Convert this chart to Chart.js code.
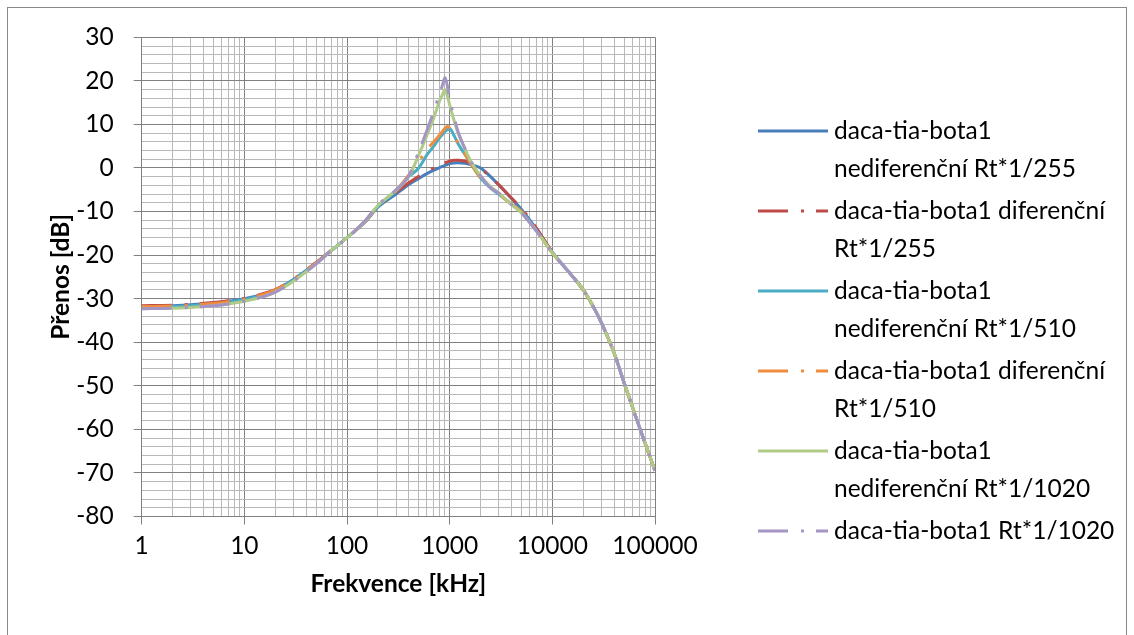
<!DOCTYPE html>
<html><head><meta charset="utf-8">
<script src="https://cdn.jsdelivr.net/npm/chart.js@4.4.1/dist/chart.umd.min.js"></script>
<style>
html,body{margin:0;padding:0;background:#fff;}
#wrap{position:relative;width:1134px;height:635px;overflow:hidden;}
#frame{position:absolute;left:7px;top:7px;width:1120px;height:660px;border:1px solid #8a8a8a;box-sizing:border-box;pointer-events:none;}
canvas{position:absolute;left:0;top:0;}
</style></head><body>
<div id="wrap"><canvas id="c" width="1134" height="635"></canvas><div id="frame"></div></div>
<script>
// ---- data ----
const frequencies = [1, 2, 3, 5, 7, 10, 15, 20, 30, 50, 70, 100, 150, 200, 300, 400, 500, 600, 700, 800, 850, 900, 950, 1000, 1100, 1200, 1400, 1600, 2000, 2500, 3000, 4000, 5000, 7000, 10000, 15000, 20000, 25000, 30000, 40000, 50000, 70000, 100000];

const seriesNames = [
  'daca-tia-bota1 nediferenční Rt*1/255',
  'daca-tia-bota1 diferenční Rt*1/255',
  'daca-tia-bota1 nediferenční Rt*1/510',
  'daca-tia-bota1 diferenční Rt*1/510',
  'daca-tia-bota1 nediferenční Rt*1/1020',
  'daca-tia-bota1 Rt*1/1020'
];
const legendLines = [
  ['daca-tia-bota1', 'nediferenční Rt*1/255'],
  ['daca-tia-bota1 diferenční', 'Rt*1/255'],
  ['daca-tia-bota1', 'nediferenční Rt*1/510'],
  ['daca-tia-bota1 diferenční', 'Rt*1/510'],
  ['daca-tia-bota1', 'nediferenční Rt*1/1020'],
  ['daca-tia-bota1 Rt*1/1020']
];

const nedif255 = [-31.8, -31.6, -31.4, -31.0, -30.6, -30.0, -29.0, -28.0, -25.6, -21.8, -19.0, -16.0, -12.4, -9.0, -6.0, -3.8, -2.4, -1.3, -0.5, 0.1, 0.35, 0.6, 0.8, 1.0, 1.15, 1.2, 1.1, 0.8, 0.0, -2.0, -3.9, -7.0, -9.5, -14.0, -19.3, -24.3, -28.0, -31.8, -35.5, -42.5, -49.3, -59.3, -69.5];
const dif255   = [-31.6, -31.5, -31.3, -30.9, -30.5, -29.9, -28.9, -27.9, -25.5, -21.7, -18.9, -16.0, -12.3, -8.8, -5.6, -3.4, -1.9, -0.8, 0.0, 0.7, 0.95, 1.2, 1.4, 1.6, 1.8, 1.8, 1.6, 1.1, 0.0, -2.2, -3.8, -6.9, -9.3, -13.8, -19.3, -24.3, -28.0, -31.8, -35.5, -42.5, -49.3, -59.3, -69.5];
const nedif510 = [-31.9, -31.8, -31.6, -31.2, -30.8, -30.2, -29.2, -28.1, -25.7, -21.8, -19.0, -16.0, -12.3, -8.8, -5.3, -2.0, 0.0, 3.0, 5.0, 7.0, 7.7, 8.4, 8.8, 9.0, 7.5, 5.7, 3.2, 1.0, -2.3, -4.6, -6.0, -8.3, -10.0, -14.3, -19.5, -24.3, -28.0, -31.8, -35.5, -42.5, -49.3, -59.3, -69.5];
const dif510   = [-31.8, -31.7, -31.5, -31.1, -30.7, -30.1, -29.1, -28.0, -25.6, -21.8, -19.0, -16.0, -12.3, -8.7, -5.2, -1.6, 1.5, 4.2, 6.0, 7.6, 8.4, 9.1, 9.5, 9.2, 7.6, 5.8, 3.3, 1.1, -2.2, -4.5, -6.0, -8.3, -10.0, -14.3, -19.5, -24.3, -28.0, -31.8, -35.5, -42.5, -49.3, -59.3, -69.5];
const nedif1020 = [-32.3, -32.2, -32.0, -31.6, -31.2, -30.6, -29.6, -28.5, -26.0, -22.0, -19.0, -16.0, -12.2, -8.6, -5.1, -2.0, 3.0, 7.5, 11.5, 15.5, 16.8, 18.0, 16.5, 14.5, 11.0, 8.2, 4.5, 1.6, -1.8, -4.3, -5.7, -8.4, -10.3, -14.5, -19.5, -24.3, -28.0, -31.8, -35.5, -42.5, -49.3, -59.3, -69.5];
const rt1020   = [-32.3, -32.2, -32.0, -31.6, -31.2, -30.6, -29.6, -28.5, -26.0, -22.0, -19.0, -16.0, -12.1, -8.5, -5.0, -1.8, 3.8, 8.6, 13.0, 17.2, 19.0, 20.8, 18.8, 15.8, 11.8, 8.5, 4.6, 1.6, -1.8, -4.5, -5.8, -8.4, -10.3, -14.5, -19.5, -24.3, -28.0, -31.8, -35.5, -42.5, -49.3, -59.3, -69.5];

const seriesValues = [nedif255, dif255, nedif510, dif510, nedif1020, rt1020];
const seriesColors = ['#4A7EBB', '#BE4B48', '#4BACC6', '#F08C3E', '#B0CB86', '#A595C4'];
const seriesDashed = [false, true, false, true, false, true];

const xTickValues = [1, 10, 100, 1000, 10000, 100000];
const xTickLabels = ['1', '10', '100', '1000', '10000', '100000'];
const yTickValues = [30, 20, 10, 0, -10, -20, -30, -40, -50, -60, -70, -80];
const yTickLabels = ['30', '20', '10', '0', '-10', '-20', '-30', '-40', '-50', '-60', '-70', '-80'];

const xTitle = 'Frekvence [kHz]';
const yTitle = 'Přenos [dB]';

// ---- chart ----
const FONT = 'Lato';
const FS = 24.5;
const DASH = [30, 13, 3, 12];
const MAJOR = '#808080', MINOR = '#b8b8b8';

const xGrid = [];
for (let k = 0; k < 5; k++) for (let m = 1; m < 10; m++) xGrid.push(m * Math.pow(10, k));
xGrid.push(100000);
const yGrid = [];
for (let v = -80; v <= 30; v += 2) yGrid.push(v);

const isMajorX = v => xTickValues.includes(v);
const isMajorY = v => yTickValues.includes(v);

const datasets = seriesValues.map((vals, i) => ({
  label: seriesNames[i],
  data: frequencies.map((f, j) => ({x: f, y: vals[j]})),
  borderColor: seriesColors[i],
  backgroundColor: seriesColors[i],
  borderWidth: 3,
  borderDash: seriesDashed[i] ? DASH : [],
  pointRadius: 0,
  fill: false,
  cubicInterpolationMode: 'monotone',
  order: seriesValues.length - i
}));

const sideLegend = {
  id: 'sideLegend',
  afterDraw(chart) {
    const ctx = chart.ctx;
    ctx.save();
    ctx.font = FS + 'px ' + FONT;
    ctx.textBaseline = 'middle';
    ctx.textAlign = 'left';
    const top = 131, step = 80, lh = 38;
    chart.data.datasets.forEach((ds, i) => {
      const y0 = top + i * step;
      ctx.strokeStyle = ds.borderColor;
      ctx.lineWidth = 3;
      ctx.setLineDash(ds.borderDash);
      ctx.beginPath(); ctx.moveTo(758, y0); ctx.lineTo(828, y0); ctx.stroke();
      ctx.setLineDash([]);
      ctx.fillStyle = '#000';
      legendLines[i].forEach((t, k) => ctx.fillText(t, 834, y0 + k * lh));
    });
    ctx.restore();
  }
};

new Chart(document.getElementById('c'), {
  type: 'line',
  data: {datasets},
  plugins: [sideLegend],
  options: {
    responsive: false,
    animation: false,
    devicePixelRatio: 1,
    layout: {padding: {left: 0, top: 37.3, right: 1134 - 655, bottom: 0}},
    plugins: {legend: {display: false}, tooltip: {enabled: false}},
    scales: {
      x: {
        type: 'logarithmic', min: 1, max: 100000,
        afterBuildTicks: s => { s.ticks = xGrid.map(v => ({value: v})); },
        afterFit: s => { s.height = 635 - 516.5; },
        ticks: {
          autoSkip: false, maxRotation: 0, minRotation: 0, padding: 7, color: '#000',
          font: {family: FONT, size: FS},
          callback: v => { const i = xTickValues.indexOf(v); return i >= 0 ? xTickLabels[i] : ''; }
        },
        grid: {
          color: c => (c.tick && isMajorX(c.tick.value)) ? MAJOR : MINOR,
          tickColor: c => (c.tick && isMajorX(c.tick.value)) ? MAJOR : 'rgba(0,0,0,0)',
          tickLength: 8, lineWidth: 1
        },
        border: {color: MAJOR, width: 1},
        title: {display: true, text: xTitle, color: '#000', font: {family: FONT, size: FS, weight: 'bold'}, padding: {top: 0, bottom: 36}}
      },
      y: {
        type: 'linear', min: -80, max: 30,
        afterBuildTicks: s => { s.ticks = yGrid.map(v => ({value: v})); },
        afterFit: s => { s.width = 141.7; },
        ticks: {
          autoSkip: false, padding: 20, color: '#000',
          font: {family: FONT, size: FS},
          callback: v => { const i = yTickValues.indexOf(v); return i >= 0 ? yTickLabels[i] : ''; }
        },
        grid: {
          color: c => (c.tick && isMajorY(c.tick.value)) ? MAJOR : MINOR,
          tickColor: c => (c.tick && isMajorY(c.tick.value)) ? MAJOR : 'rgba(0,0,0,0)',
          tickLength: 8, lineWidth: 1
        },
        border: {color: MAJOR, width: 1},
        title: {display: true, text: yTitle, color: '#000', font: {family: FONT, size: FS, weight: 'bold'}, padding: {top: 46, bottom: 0}}
      }
    }
  }
});
</script>
</body></html>
